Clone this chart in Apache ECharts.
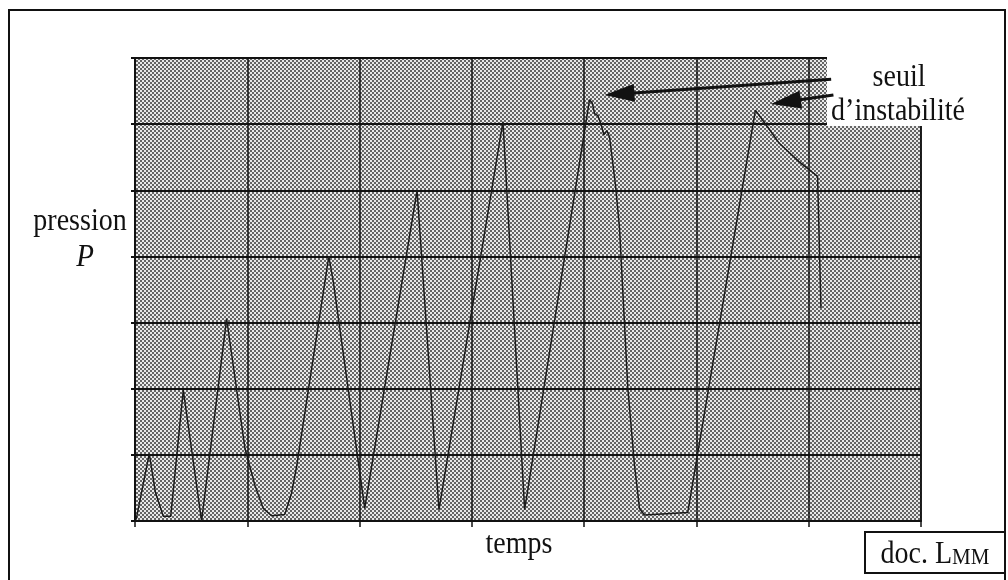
<!DOCTYPE html>
<html>
<head>
<meta charset="utf-8">
<script src="https://cdn.jsdelivr.net/npm/echarts@6/dist/echarts.min.js"></script>
<style>
  html, body { margin: 0; padding: 0; background: #fff; }
  #chart { width: 1008px; height: 580px; }
</style>
</head>
<body>
<div id="chart"></div>
<script>
// ---- Data ----
const temps = [
  0.01, 0.127, 0.181, 0.252, 0.318, 0.43, 0.593,
  0.816, 0.845, 0.979, 1.068, 1.142, 1.216, 1.334, 1.394, 1.439,
  1.726, 1.766, 2.046, 2.512, 2.707, 3.277, 3.470,
  4.048, 4.072, 4.093, 4.122, 4.152, 4.175, 4.202, 4.226,
  4.279, 4.315, 4.389, 4.448, 4.493, 4.537, 4.923,
  5.525, 5.620, 5.738, 5.916, 6.079, 6.109
];
const pression = [
  0.02, 1.02, 0.44, 0.07, 0.07, 1.98, 0.0,
  3.06, 2.71, 1.10, 0.54, 0.19, 0.08, 0.10, 0.42, 0.82,
  4.00, 3.62, 0.19, 5.00, 0.17, 6.04, 0.17,
  6.37, 6.32, 6.16, 6.13, 5.99, 5.84, 5.90, 5.81,
  5.08, 4.43, 2.01, 0.85, 0.19, 0.09, 0.13,
  6.21, 5.99, 5.71, 5.43, 5.21, 3.22
];
const axisMin = 0, axisMax = 7, axisStep = 1;
const xLabel = 'temps';
const yLabel1 = 'pression';
const yLabel2 = 'P';
const noteTop = 'seuil';
const noteBottom = 'd\u2019instabilité';
const sourceText = 'doc. L';
const sourceSmallCaps = 'MM';

// ---- halftone pattern ----
const tile = document.createElement('canvas');
tile.width = 4; tile.height = 4;
const tg = tile.getContext('2d');
tg.fillStyle = '#eaeaea'; tg.fillRect(0, 0, 4, 4);
tg.fillStyle = '#666666';
tg.fillRect(0, 0, 2, 2);
tg.fillRect(2, 2, 2, 2);

const seriesData = temps.map((t, i) => [t, pression[i]]);
const serif = '"Liberation Serif", "DejaVu Serif", serif';

function label(x, y, text, size, style) {
  return { type: 'text', z: 10, x: x, y: y, scaleY: 1.12,
    style: { x: 0, y: 0, text: text, fontFamily: serif, fontSize: size, fontStyle: style || 'normal',
             fill: '#111', align: 'center', verticalAlign: 'middle' } };
}

const chart = echarts.init(document.getElementById('chart'), null, { renderer: 'canvas' });
chart.setOption({
  animation: false,
  backgroundColor: '#fff',
  grid: {
    left: 135, top: 58, right: 87, bottom: 59,
    show: true,
    backgroundColor: { image: tile, repeat: 'repeat' },
    borderColor: '#111', borderWidth: 1.5
  },
  xAxis: {
    type: 'value', min: axisMin, max: axisMax, interval: axisStep,
    axisLine: { show: true, lineStyle: { color: '#111', width: 2 } },
    axisTick: { show: true, length: 6, lineStyle: { color: '#111', width: 1.5 } },
    axisLabel: { show: false },
    splitLine: { show: true, lineStyle: { color: '#111', width: 1.5 } }
  },
  yAxis: {
    type: 'value', min: axisMin, max: axisMax, interval: axisStep,
    axisLine: { show: true, lineStyle: { color: '#111', width: 2 } },
    axisTick: { show: true, length: 4, lineStyle: { color: '#111', width: 2 } },
    axisLabel: { show: false },
    splitLine: { show: true, lineStyle: { color: '#111', width: 2 } }
  },
  series: [{
    type: 'line',
    data: seriesData,
    showSymbol: false,
    symbol: 'none',
    lineStyle: { color: '#1a1a1a', width: 1.5 },
    z: 3,
    markLine: {
      silent: true,
      symbol: ['none', 'triangle'],
      symbolSize: [18, 30],
      label: { show: false },
      lineStyle: { color: '#111', width: 3, type: 'solid' },
      emphasis: { disabled: true },
      data: [
        [{ coord: [6.20, 6.68] }, { coord: [4.314, 6.457] }],
        [{ coord: [6.22, 6.44] }, { coord: [5.797, 6.338] }]
      ]
    }
  }],
  graphic: [
    { type: 'rect', z: 1, shape: { x: 827, y: 45, width: 160, height: 81 }, style: { fill: '#fff' } },
    { type: 'rect', z: 1, shape: { x: 9, y: 10, width: 996, height: 600 }, style: { fill: 'none', stroke: '#111', lineWidth: 2 } },
    label(899, 78, noteTop, 28),
    label(898, 112, noteBottom, 28),
    label(80, 222, yLabel1, 28),
    label(85, 257, yLabel2, 29, 'italic'),
    label(519, 545, xLabel, 28),
    { type: 'rect', z: 10, shape: { x: 865, y: 532, width: 140, height: 41 }, style: { fill: '#fff', stroke: '#111', lineWidth: 2 } },
    { type: 'text', z: 11, x: 935, y: 554, scaleY: 1.12,
      style: { x: 0, y: 0, text: '{a|' + sourceText + '}{b|' + sourceSmallCaps + '}', align: 'center', verticalAlign: 'middle',
        rich: { a: { fontFamily: serif, fontSize: 28, fill: '#111', verticalAlign: 'bottom', lineHeight: 30 },
                b: { fontFamily: serif, fontSize: 21, fill: '#111', verticalAlign: 'bottom', lineHeight: 30, padding: [0,0,1,0] } } } }
  ]
});
</script>
</body>
</html>
